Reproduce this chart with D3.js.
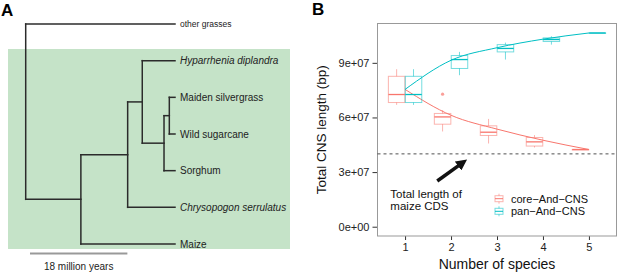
<!DOCTYPE html>
<html>
<head>
<meta charset="utf-8">
<script src="https://cdn.jsdelivr.net/npm/d3@7"></script>
<style>
body { margin: 0; background: #fff; }
svg { font-family: "Liberation Sans", Arial, sans-serif; }
.tick text { font-size: 11px; fill: #222; }
.tick line { stroke: #333; }
</style>
</head>
<body>
<div id="chart"></div>
<script>
// panel A - tree (ages in million years before present)
var tree = {name: "", age: 27.6, children: [
  {name: "other grasses", age: 0, small: true},
  {name: "", age: 17.4, children: [
    {name: "", age: 8.75, children: [
      {name: "", age: 6.05, children: [
        {name: "Hyparrhenia diplandra", age: 0, italic: true},
        {name: "", age: 2.03, children: [
          {name: "", age: 1.05, children: [
            {name: "Maiden silvergrass", age: 0},
            {name: "Wild sugarcane", age: 0}
          ]},
          {name: "Sorghum", age: 0}
        ]}
      ]},
      {name: "Chrysopogon serrulatus", age: 0, italic: true}
    ]},
    {name: "Maize", age: 0}
  ]}
]};
var scaleBarMy = 18;

// panel B - box stats (bp)
var species = [1, 2, 3, 4, 5];
var coreMin = [66.9e6, 52.3e6, 45.7e6, 43.5e6, 42.4e6];
var coreQ1  = [68.2e6, 56.3e6, 50.1e6, 44.3e6, 42.4e6];
var coreMed = [72.6e6, 60.3e6, 51.9e6, 46.6e6, 42.4e6];
var coreQ3  = [82.6e6, 62.2e6, 55.4e6, 49.0e6, 42.4e6];
var coreMax = [86.5e6, 64.0e6, 59.2e6, 50.3e6, 42.4e6];
var coreMean = [75.4e6, 61.2e6, 53.6e6, 47.5e6, 42.4e6];
var coreOut = [[2, 72.8e6]];
var panMin = [66.9e6, 83.2e6, 91.8e6, 100.0e6, 106.4e6];
var panQ1  = [68.2e6, 86.9e6, 96.0e6, 101.7e6, 106.4e6];
var panMed = [72.6e6, 91.8e6, 97.9e6, 102.8e6, 106.4e6];
var panQ3  = [82.6e6, 94.0e6, 100.0e6, 103.7e6, 106.4e6];
var panMax = [86.5e6, 96.0e6, 101.1e6, 104.6e6, 106.4e6];
var panMean = [75.4e6, 91.4e6, 98.3e6, 103.0e6, 106.4e6];
var yTicks = [0, 3e7, 6e7, 9e7];
var cdsLength = 4e7;
var groups = ["core\u2212And\u2212CNS", "pan\u2212And\u2212CNS"];
var colors = ["#F8766D", "#00BFC4"];

var svg = d3.select('#chart').append('svg').attr('width', 617).attr('height', 273);

//---------- A ----------
svg.append('text').attr('x', 1).attr('y', 16).style('font-size', '17px').style('font-weight', 'bold').text('A');

var plotA = svg.append('g');
plotA.append('rect').attr('x', 8).attr('y', 49).attr('width', 282).attr('height', 200).attr('fill', '#c5e3c8');

var root = d3.hierarchy(tree);
var leaves = root.leaves();
var scaleAge = d3.scaleLinear().domain([27.6, 0]).range([25.7, 175]);
var scaleLeaf = d3.scalePoint().domain(leaves.map(function(d){ return d.data.name; })).range([24, 244]);

root.eachAfter(function(d){
  d.px = scaleAge(d.data.age);
  if (!d.children) d.py = scaleLeaf(d.data.name);
  else d.py = d3.mean([d.children[0].py, d.children[d.children.length - 1].py]);
});

var branches = [];
root.each(function(d){
  if (d.children) {
    branches.push([d.px, d.children[0].py, d.px, d.children[d.children.length - 1].py]);
    d.children.forEach(function(c){ branches.push([d.px, c.py, c.px, c.py]); });
  }
});
plotA.selectAll('.branch').data(branches).enter().append('line')
  .attr('class', 'branch')
  .attr('x1', function(d){ return d[0]; }).attr('y1', function(d){ return d[1]; })
  .attr('x2', function(d){ return d[2]; }).attr('y2', function(d){ return d[3]; })
  .attr('stroke', '#2b2b2b').attr('stroke-width', 1.5).attr('stroke-linecap', 'square');

plotA.selectAll('.leaf').data(leaves).enter().append('text')
  .attr('class', 'leaf')
  .attr('x', function(d){ return d.px + 5; })
  .attr('y', function(d){ return d.py; })
  .attr('dy', '0.35em')
  .style('font-size', function(d){ return d.data.small ? '8.5px' : '10px'; })
  .style('font-style', function(d){ return d.data.italic ? 'italic' : 'normal'; })
  .attr('fill', '#222')
  .text(function(d){ return d.data.name; });

// scale bar
var barX0 = 30;
var barX1 = barX0 + (scaleAge(0) - scaleAge(scaleBarMy));
plotA.append('line').attr('x1', barX0).attr('x2', barX1).attr('y1', 253.5).attr('y2', 253.5)
  .attr('stroke', '#999').attr('stroke-width', 2);
plotA.append('text').attr('x', (barX0 + barX1) / 2).attr('y', 266).attr('dy', '0.35em')
  .attr('text-anchor', 'middle').style('font-size', '10px').attr('fill', '#222').text(scaleBarMy + ' million years');

//---------- B ----------
svg.append('text').attr('x', 312).attr('y', 15).style('font-size', '17px').style('font-weight', 'bold').text('B');

var marginB = {t: 23.5, l: 377.5, r: 616.5, b: 236};
var scaleX = d3.scaleLinear().domain([0.4, 5.6]).range([marginB.l, marginB.r]);
var scaleY = d3.scaleLinear().domain([-5.1e6, 111.6e6]).range([marginB.b, marginB.t]);

var plotB = svg.append('g');

var axisX = d3.axisBottom(scaleX).tickValues(species).tickSize(4).tickPadding(3).tickFormat(d3.format('d'));
var axisY = d3.axisLeft(scaleY).tickValues(yTicks).tickSize(5).tickPadding(3)
  .tickFormat(function(d){ return d === 0 ? '0e+00' : (d / 1e7) + 'e+07'; });

plotB.append('g').attr('class', 'axis axis-x').attr('transform', 'translate(0,' + marginB.b + ')').call(axisX)
  .call(function(g){ g.select('.domain').remove(); });
plotB.append('g').attr('class', 'axis axis-y').attr('transform', 'translate(' + marginB.l + ',0)').call(axisY)
  .call(function(g){ g.select('.domain').remove(); });

plotB.append('rect').attr('x', marginB.l).attr('y', marginB.t)
  .attr('width', marginB.r - marginB.l).attr('height', marginB.b - marginB.t)
  .attr('fill', 'none').attr('stroke', '#999').attr('stroke-width', 1);

// dashed CDS line
plotB.append('line').attr('x1', marginB.l).attr('x2', marginB.r)
  .attr('y1', scaleY(cdsLength)).attr('y2', scaleY(cdsLength))
  .attr('stroke', '#222').attr('stroke-width', 0.8).attr('stroke-dasharray', '3,3');

// boxes
var boxW = 16.5;
var statsSets = [
  {min: coreMin, q1: coreQ1, med: coreMed, q3: coreQ3, max: coreMax, mean: coreMean},
  {min: panMin, q1: panQ1, med: panMed, q3: panQ3, max: panMax, mean: panMean}
];
statsSets.forEach(function(s, gi){
  var col = colors[gi];
  var data = species.map(function(n, i){
    return {n: n, min: s.min[i], q1: s.q1[i], med: s.med[i], q3: s.q3[i], max: s.max[i]};
  });
  var g = plotB.append('g').attr('class', 'boxes');
  var offset = (gi === 0 ? -1 : 1) * boxW / 2 + (gi === 0 ? -0.2 : 0.2);
  var cx = function(d){ return scaleX(d.n) + offset; };
  var b = g.selectAll('.box').data(data).enter().append('g').attr('class', 'box');
  b.append('line').attr('x1', cx).attr('x2', cx)
    .attr('y1', function(d){ return scaleY(d.max); }).attr('y2', function(d){ return scaleY(d.q3); })
    .attr('stroke', col).attr('stroke-opacity', 0.55);
  b.append('line').attr('x1', cx).attr('x2', cx)
    .attr('y1', function(d){ return scaleY(d.q1); }).attr('y2', function(d){ return scaleY(d.min); })
    .attr('stroke', col).attr('stroke-opacity', 0.55);
  b.append('rect')
    .attr('x', function(d){ return cx(d) - boxW / 2; })
    .attr('y', function(d){ return scaleY(d.q3); })
    .attr('width', boxW)
    .attr('height', function(d){ return Math.max(0.5, scaleY(d.q1) - scaleY(d.q3)); })
    .attr('fill', 'none').attr('stroke', col).attr('stroke-opacity', 0.55);
  b.append('line')
    .attr('x1', function(d){ return cx(d) - boxW / 2; }).attr('x2', function(d){ return cx(d) + boxW / 2; })
    .attr('y1', function(d){ return scaleY(d.med); }).attr('y2', function(d){ return scaleY(d.med); })
    .attr('stroke', col).attr('stroke-width', 1.3);

  // trend line
  var line = d3.line().curve(d3.curveMonotoneX)
    .x(function(d, i){ return scaleX(species[i]); })
    .y(function(d){ return scaleY(d); });
  plotB.append('path').datum(s.mean).attr('d', line)
    .attr('fill', 'none').attr('stroke', col).attr('stroke-width', 1);
});

// outliers
plotB.selectAll('.outlier').data(coreOut).enter().append('circle')
  .attr('class', 'outlier')
  .attr('cx', function(d){ return scaleX(d[0]) - boxW / 2 - 0.2; })
  .attr('cy', function(d){ return scaleY(d[1]); })
  .attr('r', 1.6).attr('fill', colors[0]).attr('fill-opacity', 0.7);

// arrow annotation
svg.append('defs').append('marker').attr('id', 'head')
  .attr('viewBox', '0 0 10 10').attr('refX', 6).attr('refY', 5)
  .attr('markerWidth', 3.2).attr('markerHeight', 3.2).attr('orient', 'auto')
  .append('path').attr('d', 'M0,0 L10,5 L0,10 z').attr('fill', '#111');
plotB.append('line')
  .attr('x1', scaleX(1.7)).attr('y1', scaleY(25.1e6))
  .attr('x2', scaleX(2.27)).attr('y2', scaleY(35.5e6))
  .attr('stroke', '#111').attr('stroke-width', 3.5).attr('marker-end', 'url(#head)');

var note = plotB.append('text').attr('x', scaleX(0.68)).attr('y', scaleY(17.9e6))
  .style('font-size', '11.5px').attr('fill', '#111');
note.append('tspan').attr('x', scaleX(0.68)).attr('dy', '0.35em').text('Total length of');
note.append('tspan').attr('x', scaleX(0.68)).attr('dy', '1.0em').text('maize CDS');

// legend
var legend = plotB.selectAll('.legend').data(groups).enter().append('g')
  .attr('class', 'legend')
  .attr('transform', function(d, i){ return 'translate(499,' + (198.7 + i * 12.6) + ')'; });
legend.append('line').attr('x1', 0).attr('x2', 0).attr('y1', -5).attr('y2', 5)
  .attr('stroke', function(d, i){ return colors[i]; }).attr('stroke-opacity', 0.55);
legend.append('rect').attr('x', -4).attr('y', -3).attr('width', 8).attr('height', 6)
  .attr('fill', '#fff').attr('stroke', function(d, i){ return colors[i]; }).attr('stroke-opacity', 0.55);
legend.append('line').attr('x1', -4).attr('x2', 4).attr('y1', 0).attr('y2', 0)
  .attr('stroke', function(d, i){ return colors[i]; });
legend.append('text').attr('x', 12).attr('dy', '0.35em').style('font-size', '11px').attr('fill', '#111')
  .text(function(d){ return d; });

// axis titles
svg.append('text').attr('x', (marginB.l + marginB.r) / 2).attr('y', 264.3).attr('dy', '0.35em')
  .attr('text-anchor', 'middle').style('font-size', '14px').attr('fill', '#111').text('Number of species');
svg.append('text').attr('transform', 'translate(321.5,' + (marginB.t + marginB.b) / 2 + ') rotate(-90)')
  .attr('dy', '0.35em').attr('text-anchor', 'middle').style('font-size', '13.5px').attr('fill', '#111')
  .text('Total CNS length (bp)');
</script>
</body>
</html>
